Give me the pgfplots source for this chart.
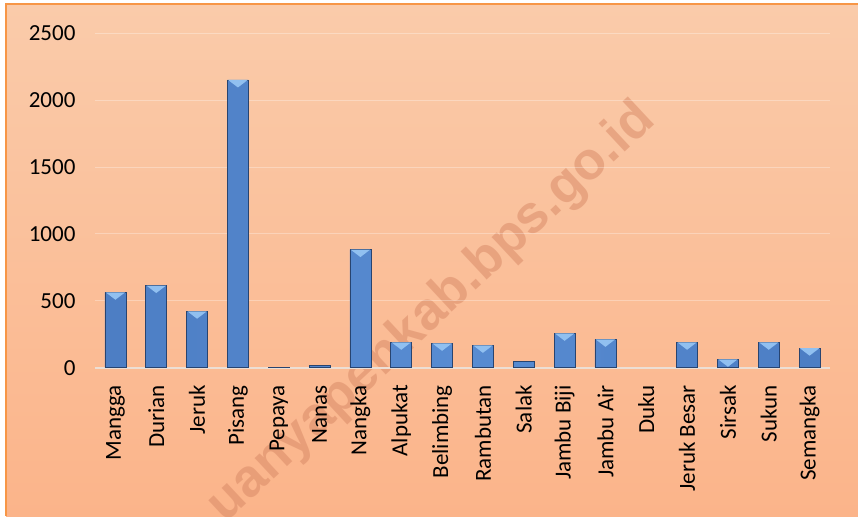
\documentclass[border=0pt]{standalone}
\usepackage{pgfplots}
\pgfplotsset{compat=1.18}
\usepackage{fontspec}
\setmainfont{Carlito}
\newfontfamily\wmfont{Liberation Sans}
\definecolor{bgtop}{RGB}{250,203,170}
\definecolor{bgbot}{RGB}{251,180,138}
\definecolor{frameor}{RGB}{247,150,70}
\definecolor{bardark}{RGB}{48,85,140}
\definecolor{barmid}{RGB}{72,120,190}
\definecolor{barlight}{RGB}{88,140,210}
\definecolor{barline}{RGB}{40,68,112}
\definecolor{bevel}{RGB}{145,192,240}
\definecolor{wm}{RGB}{215,135,100}
\definecolor{zeroline}{RGB}{236,222,212}
\pgfdeclarehorizontalshading{barsh}{100bp}{color(0bp)=(bardark); color(15bp)=(barmid); color(50bp)=(barlight); color(85bp)=(barmid); color(100bp)=(bardark)}
\pgfdeclareplotmark{bevel}{%
  \pgfpathmoveto{\pgfpoint{-9.8pt}{0pt}}%
  \pgfpathlineto{\pgfpoint{9.8pt}{0pt}}%
  \pgfpathlineto{\pgfpoint{0pt}{-7.5pt}}%
  \pgfpathclose\pgfusepathqfill}
\begin{document}
\begin{tikzpicture}
\path[use as bounding box, fill=white] (0pt,0pt) rectangle (858pt,516pt);
\shade[top color=bgtop, bottom color=bgbot] (6pt,0pt) rectangle (858pt,512pt);
\draw[frameor, line width=1.5pt] (6pt,0pt) -- (6pt,512pt) -- (858pt,512pt);
\begin{scope}
\clip (6pt,0pt) rectangle (858pt,511pt);
\node[rotate=43, font=\wmfont\bfseries\fontsize{53}{62}\selectfont, text=wm, opacity=0.5] at (432pt,203pt) {uanyapenkab.bps.go.id};
\end{scope}
\begin{axis}[
  at={(95pt,148.3pt)}, anchor=south west,
  scale only axis, width=735pt, height=334.4pt,
  xmin=-0.5, xmax=17.5, ymin=0, ymax=2500,
  axis line style={draw=none},
  major tick length=0pt,
  ytick={0,500,...,2500},
  xtick={0,...,17},
  xticklabels={Mangga,Durian,Jeruk,Pisang,Pepaya,Nanas,Nangka,Alpukat,Belimbing,Rambutan,Salak,Jambu Biji,Jambu Air,Duku,Jeruk Besar,Sirsak,Sukun,Semangka},
  x tick label style={rotate=90, anchor=east},
  xticklabel shift=14pt,
  yticklabel shift=16pt,
  ticklabel style={font=\fontsize{23}{27}\selectfont},
  /pgf/number format/assume math mode=true,
  /pgf/number format/set thousands separator={},
  scaled y ticks=false,
  ymajorgrids,
  major grid style={white, opacity=0.3, line width=1pt},
  clip=false,
]
\addplot[zeroline, line width=2pt, forget plot] coordinates {(-0.5,0) (17.5,0)};
\addplot[ybar, bar width=21pt, bar shift=0pt, draw=barline, line width=0.6pt,
  shading=barsh] coordinates {
(0,564) (1,614) (2,422) (3,2151) (4,3) (5,20) (6,883) (7,190) (8,182)
(9,167) (10,47) (11,257) (12,212) (14,190) (15,63) (16,190) (17,146)};
\addplot[only marks, mark=bevel, mark options={fill=bevel, draw=none}] coordinates {
(0,564) (1,614) (2,422) (3,2151) (6,883) (7,190) (8,182)
(9,167) (11,257) (12,212) (14,190) (15,63) (16,190) (17,146)};
\end{axis}
\end{tikzpicture}
\end{document}
